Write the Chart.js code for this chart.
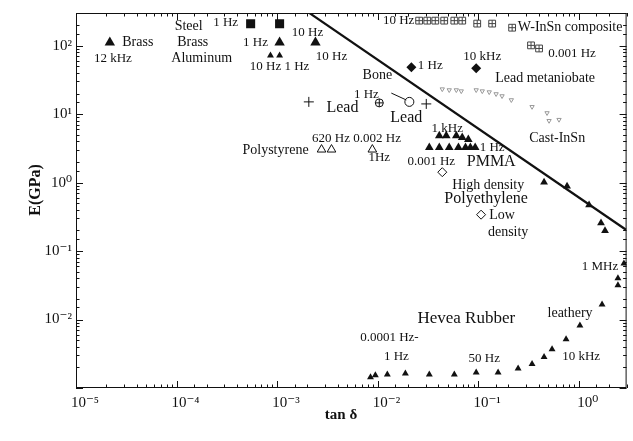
<!DOCTYPE html>
<html>
<head>
<meta charset="utf-8">
<script src="https://cdn.jsdelivr.net/npm/chart.js@4.4.1/dist/chart.umd.min.js"></script>
<style>
  html, body { margin: 0; padding: 0; background: #fff; }
  #wrap { width: 633px; height: 441px; }
</style>
</head>
<body>
<div id="wrap"><canvas id="c" width="633" height="441"></canvas></div>
<script>
// ---- data: [tan delta, E (GPa)] ----
const brass12k      = [[2.17e-5, 111]];
const steel         = [[5.46e-4, 209], [1.06e-3, 209]];
const metalBig      = [[1.06e-3, 111], [2.41e-3, 111]];
const metalSmall    = [[8.6e-4, 72], [1.06e-3, 72]];
const leadPlus      = [[2.07e-3, 15.1], [0.0305, 14.1]];
const bone          = [[0.0104, 14.6]];
const leadCircle    = [[0.0207, 15.1]];
const leadLeader    = [[0.0137, 20.3], [0.0193, 16.1]];
const metaniobate   = [[0.0217, 48.4], [0.0957, 46.8]];
const wInSn = [
  [0.0259, 232], [0.0312, 232], [0.0375, 232], [0.046, 232], [0.058, 232], [0.0695, 232],
  [0.098, 210], [0.138, 210], [0.218, 183], [0.336, 101], [0.404, 91]
];
const castInSn = [
  [0.044, 23.2], [0.0516, 22.5], [0.0607, 22.5], [0.068, 21.7], [0.0957, 22.5], [0.11, 21.7],
  [0.129, 21.0], [0.151, 19.7], [0.173, 18.4], [0.214, 16.1], [0.344, 12.8], [0.485, 10.4],
  [0.638, 8.3], [0.508, 8.0]
];
const pmma = [
  [0.0411, 4.85], [0.0482, 4.85], [0.0607, 4.85], [0.0695, 4.54], [0.0799, 4.25],
  [0.0327, 3.25], [0.0411, 3.25], [0.0516, 3.25], [0.0637, 3.25], [0.0749, 3.25],
  [0.0838, 3.25], [0.0935, 3.25]
];
const polystyrene   = [[2.77e-3, 3.04], [3.48e-3, 3.04], [8.87e-3, 3.04]];
const polyethylene  = [[0.044, 1.42], [0.107, 0.34]];
const nearBound     = [[0.453, 1.01], [0.767, 0.887], [1.27, 0.471], [1.67, 0.258], [1.83, 0.198]];
const rubber = [
  [8.5e-3, 1.43e-3], [9.5e-3, 1.53e-3], [0.0125, 1.58e-3], [0.0189, 1.63e-3], [0.0327, 1.58e-3],
  [0.058, 1.58e-3], [0.0957, 1.69e-3], [0.158, 1.69e-3], [0.25, 1.93e-3], [0.344, 2.24e-3],
  [0.453, 2.83e-3], [0.544, 3.69e-3], [0.75, 5.15e-3], [1.03, 8.2e-3], [1.71, 0.0166],
  [2.46, 0.0317], [2.46, 0.040], [2.82, 0.066]
];
const bound = [[0.00201, 313], [2.96, 0.205]];

const xTickExps = [-5, -4, -3, -2, -1, 0];
const yTickExps = [-2, -1, 0, 1, 2];

// annotations: [text, tan delta, E]
const notes = [
  ["Brass", 4.12e-5, 111], ["12 kHz", 2.33e-5, 65.3],
  ["Steel", 1.32e-4, 190], ["Brass", 1.45e-4, 111], ["Aluminum", 1.78e-4, 65.3],
  ["1 Hz", 3.08e-4, 217], ["1 Hz", 6.11e-4, 111], ["10 Hz 1 Hz", 1.06e-3, 50.0],
  ["10 Hz", 2.01e-3, 155], ["10 Hz", 3.48e-3, 69.8],
  ["Lead", 4.47e-3, 12.3], ["620 Hz 0.002 Hz", 6.17e-3, 4.39], ["Polystyrene", 9.66e-4, 2.94],
  ["1Hz", 0.0104, 2.33], ["Bone", 9.95e-3, 37.0], ["1 Hz", 7.74e-3, 19.0], ["Lead", 0.0193, 8.83],
  ["1 Hz", 0.0334, 51.7], ["10 kHz", 0.110, 69.8], ["Lead metaniobate", 0.464, 33.5],
  ["10 Hz", 0.0162, 232], ["W-InSn composite", 0.822, 183], ["0.001 Hz", 0.859, 77.1],
  ["Cast-InSn", 0.611, 4.39], ["1 kHz", 0.0493, 6.13], ["1 Hz", 0.138, 3.25],
  ["0.001 Hz", 0.0342, 2.04], ["PMMA", 0.135, 1.98], ["High density", 0.126, 0.917],
  ["Polyethylene", 0.120, 0.575], ["Low", 0.173, 0.338], ["density", 0.199, 0.185],
  ["1 MHz", 1.63, 0.0597], ["leathery", 0.822, 0.0125], ["Hevea Rubber", 0.0762, 0.0102],
  ["0.0001 Hz-", 0.0131, 5.42e-3], ["1 Hz", 0.0154, 2.88e-3], ["50 Hz", 0.115, 2.69e-3],
  ["10 kHz", 1.06, 2.88e-3]
];
const bigNotes = new Set(["Lead", "PMMA", "Polyethylene", "Hevea Rubber"]);

const SERIF = "'Liberation Serif', 'DejaVu Serif', serif";
const INK = '#111';
const pts = a => a.map(([x, y]) => ({ x, y }));
const SUP = { '-': '\u207B', '0': '\u2070', '1': '\u00B9', '2': '\u00B2', '3': '\u00B3', '4': '\u2074', '5': '\u2075' };
const pow10 = e => '10' + String(e).split('').map(c => SUP[c]).join('');

// open: true -> white fill, 'hollow' -> no fill (for marks drawn with a cross on top)
function marks(data, style, r, open, color) {
  const c = color || INK;
  return {
    data: pts(data),
    pointStyle: style,
    pointRadius: r,
    backgroundColor: open === 'hollow' ? 'rgba(0,0,0,0)' : (open ? '#fff' : c),
    borderColor: c,
    borderWidth: open ? 1 : 0,
    showLine: false
  };
}

function line(data, width) {
  return {
    data: pts(data),
    showLine: true,
    borderColor: INK,
    borderWidth: width,
    pointRadius: 0
  };
}

const frame = {
  id: 'frame',
  afterDatasetsDraw(chart) {
    const { ctx, chartArea: a, scales: { x, y } } = chart;
    ctx.save();
    ctx.fillStyle = INK;
    ctx.textAlign = 'center';
    ctx.textBaseline = 'middle';
    notes.forEach(([t, tx, ty]) => {
      let size = 14;
      if (bigNotes.has(t)) size = t === 'Hevea Rubber' ? 17 : 16;
      else if (/Hz/.test(t)) size = 13;
      ctx.font = size + 'px ' + SERIF;
      ctx.fillText(t, x.getPixelForValue(tx), y.getPixelForValue(ty));
    });

    // box with inward ticks on all four sides
    ctx.strokeStyle = INK;
    ctx.lineWidth = 1;
    ctx.strokeRect(a.left + 0.5, a.top + 0.5, a.right - a.left - 1, a.bottom - a.top - 1);
    ctx.beginPath();
    x.ticks.forEach(t => {
      const l = Math.log10(t.value);
      const len = Math.abs(l - Math.round(l)) < 1e-6 ? 7 : 3.5;
      const px = Math.round(x.getPixelForValue(t.value)) + 0.5;
      ctx.moveTo(px, a.bottom); ctx.lineTo(px, a.bottom - len);
      ctx.moveTo(px, a.top); ctx.lineTo(px, a.top + len);
    });
    y.ticks.forEach(t => {
      const l = Math.log10(t.value);
      const len = Math.abs(l - Math.round(l)) < 1e-6 ? 7 : 3.5;
      const py = Math.round(y.getPixelForValue(t.value)) + 0.5;
      ctx.moveTo(a.left, py); ctx.lineTo(a.left + len, py);
      ctx.moveTo(a.right, py); ctx.lineTo(a.right - len, py);
    });
    ctx.stroke();

    // axis titles
    ctx.font = 'bold 15px ' + SERIF;
    ctx.fillText('tan \u03B4', 341, 415);
    ctx.translate(36, 190);
    ctx.rotate(-Math.PI / 2);
    ctx.font = 'bold 16px ' + SERIF;
    ctx.fillText('E(GPa)', 0, 0);
    ctx.restore();
  }
};

const tickLabel = exps => v => {
  const l = Math.log10(v);
  const e = Math.round(l);
  if (Math.abs(l - e) > 1e-6 || !exps.includes(e)) return '';
  return pow10(e);
};

new Chart(document.getElementById('c'), {
  type: 'scatter',
  data: {
    datasets: [
      line(bound, 2.2),
      line(leadLeader, 1),
      marks(brass12k, 'triangle', 6),
      marks(steel, 'rect', 6.4),
      marks(metalBig, 'triangle', 6),
      marks(metalSmall, 'triangle', 4),
      marks(leadPlus, 'cross', 5, true),
      marks(bone, 'cross', 4, true),
      marks(bone, 'circle', 4, 'hollow'),
      marks(leadCircle, 'circle', 4.5, true),
      marks(metaniobate, 'rectRot', 5),
      marks(wInSn, 'cross', 3.4, true, '#444'),
      marks(wInSn, 'rect', 4.8, 'hollow', '#444'),
      { ...marks(castInSn, 'triangle', 2.5, true, '#999'), rotation: 180 },
      marks(pmma, 'triangle', 5),
      marks(polystyrene, 'triangle', 5, true),
      marks(polyethylene, 'rectRot', 4.5, true),
      marks(nearBound, 'triangle', 4.5),
      marks(rubber, 'triangle', 4)
    ]
  },
  options: {
    responsive: false,
    animation: false,
    events: [],
    layout: { padding: { top: 8, right: 5, left: 0, bottom: 0 } },
    plugins: { legend: { display: false }, tooltip: { enabled: false } },
    scales: {
      x: {
        type: 'logarithmic',
        min: 1e-5,
        max: 3,
        grid: { display: false, drawTicks: false, tickLength: 0 },
        border: { display: false },
        ticks: {
          autoSkip: false, maxRotation: 0, padding: 6, labelOffset: 9,
          color: INK, font: { family: SERIF, size: 15 },
          callback: tickLabel(xTickExps)
        },
        afterFit: s => { s.height = 53; }
      },
      y: {
        type: 'logarithmic',
        min: 1e-3,
        max: 300,
        grid: { display: false, drawTicks: false, tickLength: 0 },
        border: { display: false },
        ticks: {
          autoSkip: false, padding: 4,
          color: INK, font: { family: SERIF, size: 15 },
          callback: tickLabel(yTickExps)
        },
        afterFit: s => { s.width = 76; }
      }
    }
  },
  plugins: [frame]
});
</script>
</body>
</html>
